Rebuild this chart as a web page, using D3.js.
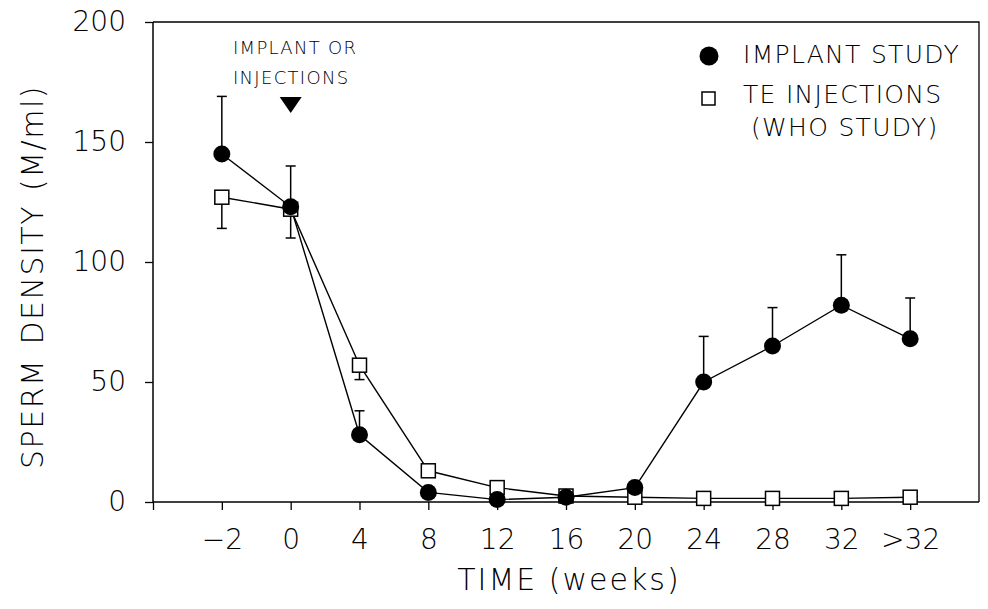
<!DOCTYPE html>
<html>
<head>
<meta charset="utf-8">
<script src="https://cdn.jsdelivr.net/npm/d3@7"></script>
<style>
  body { margin: 0; background: #fff; }
  text { font-family: "DejaVu Sans", sans-serif; font-weight: 200; fill: #000; }
</style>
</head>
<body>
<div id="vis"></div>
<script>
// categories along the time axis
const timeLabels = ['\u22122', '0', '4', '8', '12', '16', '20', '24', '28', '32', '>32'];

// implant study (filled circles), mean and upper error
const implantMean = [145, 123, 28, 4, 1, 2, 6, 50, 65, 82, 68];
const implantUpper = [169, 140, 38, null, null, null, null, 69, 81, 103, 85];

// TE injections (WHO study) (open squares), mean and lower error
const teMean = [127, 122, 57, 13, 6, 2.5, 2, 1.5, 1.5, 1.5, 2];
const teLower = [114, 110, 51, null, null, null, null, null, null, null, null];

const yTicks = [0, 50, 100, 150, 200];

const svg = d3.select('#vis')
  .append('svg')
  .attr('width', 988)
  .attr('height', 609);

const plotLeft = 153, plotRight = 979, plotTop = 22, plotBottom = 502;

const x = d3.scaleLinear().domain([-1, 11]).range([plotLeft, plotRight]);
const y = d3.scaleLinear().domain([0, 200]).range([plotBottom, plotTop]);

// frame (top and right)
svg.append('path')
  .attr('d', `M${plotLeft},${plotTop}H${plotRight}V${plotBottom}`)
  .attr('fill', 'none')
  .attr('stroke', '#000')
  .attr('stroke-width', 1.3);

// y axis
const yAxis = svg.append('g')
  .attr('transform', `translate(${plotLeft},0)`)
  .call(d3.axisLeft(y).tickValues(yTicks).tickSize(8).tickPadding(19).tickFormat(d3.format('d')));

// x axis
const xAxis = svg.append('g')
  .attr('transform', `translate(0,${plotBottom})`)
  .call(d3.axisBottom(x).tickValues(d3.range(-1, 11)).tickSize(8).tickPadding(19)
    .tickFormat(i => i < 0 ? '' : timeLabels[i]));

[yAxis, xAxis].forEach(g => {
  g.select('.domain').remove();
  g.selectAll('line').attr('stroke', '#000').attr('stroke-width', 1.3);
  g.selectAll('text')
    .style('font-size', '28px')
    .style('font-family', '"DejaVu Sans", sans-serif')
    .style('font-weight', 200);
});
svg.append('line')
  .attr('x1', plotLeft).attr('x2', plotLeft).attr('y1', plotTop).attr('y2', plotBottom)
  .attr('stroke', '#000').attr('stroke-width', 1.5);
svg.append('line')
  .attr('x1', plotLeft).attr('x2', plotRight).attr('y1', plotBottom).attr('y2', plotBottom)
  .attr('stroke', '#000').attr('stroke-width', 1.5);

// axis titles
svg.append('text')
  .attr('x', 569)
  .attr('y', 590)
  .attr('text-anchor', 'middle')
  .style('font-size', '30px')
  .style('letter-spacing', '2px')
  .text('TIME (weeks)');

svg.append('text')
  .attr('transform', 'translate(43,277) rotate(-90)')
  .attr('text-anchor', 'middle')
  .style('font-size', '30px')
  .style('letter-spacing', '1.5px')
  .style('word-spacing', '3px')
  .text('SPERM DENSITY (M/ml)');

const line = d3.line()
  .x((d, i) => x(i))
  .y(d => y(d));

// error bars
function errorBars(means, ends, cls) {
  const data = means.map((m, i) => ({ i, m, e: ends[i] })).filter(d => d.e != null);
  const g = svg.append('g').attr('class', cls);
  g.selectAll('line.v')
    .data(data).enter().append('line')
    .attr('x1', d => x(d.i)).attr('x2', d => x(d.i))
    .attr('y1', d => y(d.m)).attr('y2', d => y(d.e))
    .attr('stroke', '#000').attr('stroke-width', 1.5);
  g.selectAll('line.cap')
    .data(data).enter().append('line')
    .attr('x1', d => x(d.i) - 5).attr('x2', d => x(d.i) + 5)
    .attr('y1', d => y(d.e)).attr('y2', d => y(d.e))
    .attr('stroke', '#000').attr('stroke-width', 1.5);
}
errorBars(teMean, teLower, 'te-err');
errorBars(implantMean, implantUpper, 'imp-err');

// series lines
svg.append('path')
  .datum(teMean)
  .attr('d', line)
  .attr('fill', 'none')
  .attr('stroke', '#000')
  .attr('stroke-width', 1.4);

svg.append('path')
  .datum(implantMean)
  .attr('d', line)
  .attr('fill', 'none')
  .attr('stroke', '#000')
  .attr('stroke-width', 1.4);

// squares
svg.selectAll('rect.te')
  .data(teMean)
  .enter()
  .append('rect')
  .attr('class', 'te')
  .attr('x', (d, i) => x(i) - 7)
  .attr('y', d => y(d) - 7)
  .attr('width', 14)
  .attr('height', 14)
  .attr('fill', '#fff')
  .attr('stroke', '#000')
  .attr('stroke-width', 1.5);

// circles
svg.selectAll('circle.imp')
  .data(implantMean)
  .enter()
  .append('circle')
  .attr('class', 'imp')
  .attr('cx', (d, i) => x(i))
  .attr('cy', d => y(d))
  .attr('r', 8.5)
  .attr('fill', '#000');

// annotation
svg.append('text')
  .attr('x', 233).attr('y', 54)
  .style('font-size', '18px')
  .style('letter-spacing', '1.3px')
  .text('IMPLANT OR');
svg.append('text')
  .attr('x', 233).attr('y', 84)
  .style('font-size', '18px')
  .style('letter-spacing', '1.3px')
  .text('INJECTIONS');
svg.append('path')
  .attr('d', `M${x(1) - 11},97L${x(1) + 11},97L${x(1)},113Z`)
  .attr('fill', '#000');

// legend
svg.append('circle')
  .attr('cx', 709).attr('cy', 56).attr('r', 9.5).attr('fill', '#000');
svg.append('text')
  .attr('x', 743).attr('y', 63)
  .style('font-size', '25px')
  .style('letter-spacing', '1.3px')
  .text('IMPLANT STUDY');
svg.append('rect')
  .attr('x', 702).attr('y', 92).attr('width', 13).attr('height', 13)
  .attr('fill', '#fff').attr('stroke', '#000').attr('stroke-width', 1.5);
svg.append('text')
  .attr('x', 743).attr('y', 103)
  .style('font-size', '25px')
  .style('letter-spacing', '1.3px')
  .text('TE INJECTIONS');
svg.append('text')
  .attr('x', 751).attr('y', 136)
  .style('font-size', '25px')
  .style('letter-spacing', '1.3px')
  .text('(WHO STUDY)');
</script>
</body>
</html>
